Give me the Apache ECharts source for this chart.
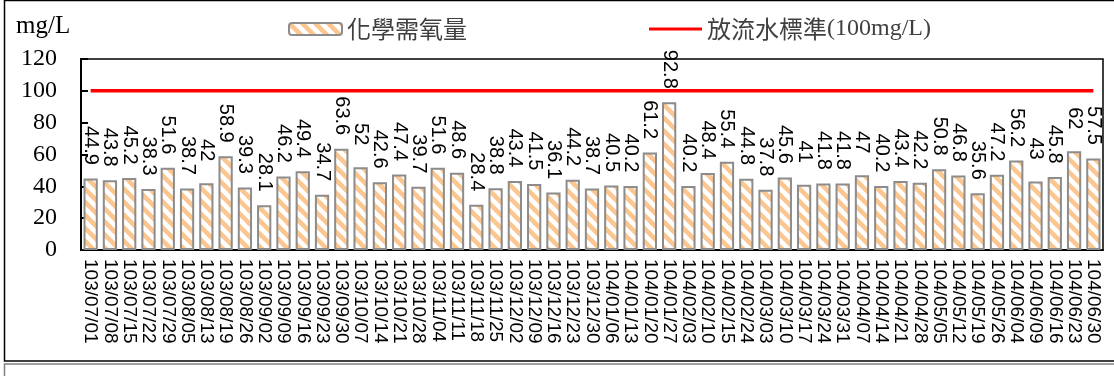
<!DOCTYPE html>
<html>
<head>
<meta charset="utf-8">
<script src="https://cdn.jsdelivr.net/npm/echarts@6/dist/echarts.min.js"></script>
<style>
  html, body { margin: 0; padding: 0; background: #fff; }
  #chart { width: 1114px; height: 376px; }
</style>
</head>
<body>
<div id="chart"></div>
<script type="text/javascript">
	// 資料
	var dates = [
		'103/07/01','103/07/08','103/07/15','103/07/22','103/07/29',
		'103/08/05','103/08/13','103/08/19','103/08/26',
		'103/09/02','103/09/09','103/09/16','103/09/23','103/09/30',
		'103/10/07','103/10/14','103/10/21','103/10/28',
		'103/11/04','103/11/11','103/11/18','103/11/25',
		'103/12/02','103/12/09','103/12/16','103/12/23','103/12/30',
		'104/01/06','104/01/13','104/01/20','104/01/27',
		'104/02/03','104/02/10','104/02/15','104/02/24',
		'104/03/03','104/03/10','104/03/17','104/03/24','104/03/31',
		'104/04/07','104/04/14','104/04/21','104/04/28',
		'104/05/05','104/05/12','104/05/19','104/05/26',
		'104/06/04','104/06/09','104/06/16','104/06/23','104/06/30'
	];
	var codValues = [
		44.9, 43.8, 45.2, 38.3, 51.6,
		38.7, 42, 58.9, 39.3,
		28.1, 46.2, 49.4, 34.7, 63.6,
		52, 42.6, 47.4, 39.7,
		51.6, 48.6, 28.4, 38.8,
		43.4, 41.5, 36.1, 44.2, 38.7,
		40.5, 40.2, 61.2, 92.8,
		40.2, 48.4, 55.4, 44.8,
		37.8, 45.6, 41, 41.8, 41.8,
		47, 40.2, 43.4, 42.2,
		50.8, 46.8, 35.6, 47.2,
		56.2, 43, 45.8, 62, 57.5
	];
	var standardValues = [
		100,100,100,100,100, 100,100,100,100, 100,100,100,100,100,
		100,100,100,100, 100,100,100,100, 100,100,100,100,100,
		100,100,100,100, 100,100,100,100, 100,100,100,100,100,
		100,100,100,100, 100,100,100,100, 100,100,100,100,100
	];
	var yTicks = { min: 0, max: 120, interval: 20 };
	var codName = '化學需氧量';
	var stdName = '放流水標準(100mg/L)';

	// 斜線花紋
	function stripePattern() {
		var s = 13;
		var c = document.createElement('canvas');
		c.width = s; c.height = s;
		var ctx = c.getContext('2d');
		ctx.fillStyle = '#ffffff';
		ctx.fillRect(0, 0, s, s);
		ctx.strokeStyle = '#fcc690';
		ctx.lineWidth = 4.6;
		for (var k = -1; k <= 1; k++) {
			ctx.beginPath();
			ctx.moveTo(k * s - 2, -2);
			ctx.lineTo(k * s + s + 2, s + 2);
			ctx.stroke();
		}
		return { image: c, repeat: 'repeat' };
	}

	var myChart = echarts.init(document.getElementById('chart'));
	myChart.setOption({
		animation: false,
		title: {
			text: 'mg/L',
			left: 16,
			top: 14,
			padding: 0,
			textStyle: { fontFamily: 'Liberation Serif', fontSize: 25, fontWeight: 'normal', color: '#000' }
		},
		graphic: [
			{ type: 'rect', shape: { x: 4.5, y: 0.5, width: 1130, height: 360.5 }, style: { fill: null, stroke: '#000', lineWidth: 1.5 }, silent: true },
			{ type: 'rect', shape: { x: 4.5, y: 364, width: 1130, height: 40 }, style: { fill: null, stroke: '#7f7f7f', lineWidth: 1.5 }, silent: true }
		],
		legend: {
			left: 288,
			top: 17,
			padding: 0,
			itemWidth: 53,
			itemHeight: 12,
			itemGap: 182,
			data: [
				codName,
				{ name: stdName, icon: 'path://M0,0H54V3H0Z' }
			],
			textStyle: {
				fontFamily: 'Noto Sans CJK TC',
				fontSize: 24,
				color: '#404040',
				rich: {
					cjk: { fontFamily: 'Noto Sans CJK TC', fontSize: 24, color: '#404040' },
					lat: { fontFamily: 'Liberation Serif', fontSize: 24, color: '#404040' }
				}
			},
			formatter: function (name) {
				if (name === stdName) {
					return '{cjk|放流水標準}{lat|(100mg/L)}';
				}
				return name;
			}
		},
		grid: {
			left: 81,
			right: 11,
			top: 59,
			bottom: 126,
			show: true,
			borderColor: '#000',
			borderWidth: 1.5,
			containLabel: false,
			outerBoundsMode: 'none'
		},
		xAxis: {
			type: 'category',
			data: dates,
			boundaryGap: true,
			axisLine: { lineStyle: { color: '#000', width: 2 } },
			axisTick: { show: false },
			axisLabel: {
				interval: 0,
				rotate: -90,
				margin: 9,
				fontFamily: 'Liberation Sans',
				fontSize: 19,
				color: '#000'
			}
		},
		yAxis: {
			type: 'value',
			min: yTicks.min,
			max: yTicks.max,
			interval: yTicks.interval,
			axisLine: { show: true, lineStyle: { color: '#000', width: 2 } },
			axisTick: { show: true, inside: true, length: 7, lineStyle: { color: '#000', width: 2 } },
			splitLine: { show: false },
			axisLabel: {
				margin: 24,
				fontFamily: 'Liberation Serif',
				fontSize: 24,
				color: '#000'
			}
		},
		series: [{
			name: codName,
			type: 'bar',
			data: codValues,
			barWidth: '74%',
			itemStyle: {
				color: stripePattern(),
				borderColor: '#8c8c8c',
				borderWidth: 2
			},
			label: {
				show: true,
				position: 'top',
				distance: 33,
				rotate: -90,
				align: 'center',
				verticalAlign: 'middle',
				fontFamily: 'Liberation Sans',
				fontSize: 20,
				color: '#000'
			}
		}, {
			name: stdName,
			type: 'line',
			data: standardValues,
			symbol: 'none',
			z: 5,
			lineStyle: { color: '#ff0000', width: 3.5 },
			itemStyle: { color: '#ff0000' }
		}]
	});
</script>
</body>
</html>
